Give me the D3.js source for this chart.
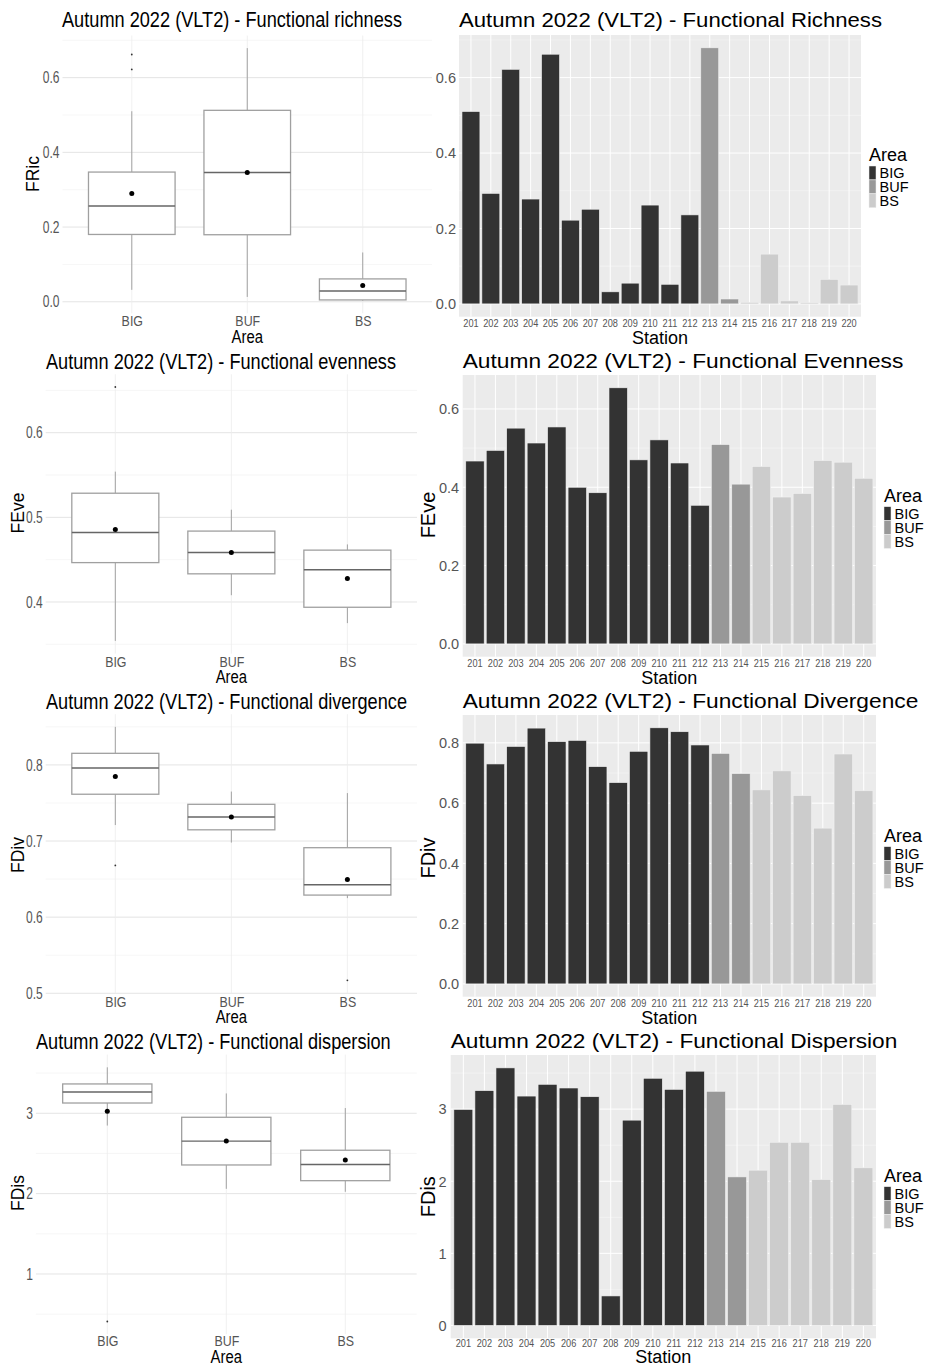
<!DOCTYPE html>
<html>
<head>
<meta charset="utf-8">
<script src="https://cdn.jsdelivr.net/npm/d3@7"></script>
<style>
body { margin: 0; background: #fff; }
svg { display: block; font-family: "Liberation Sans", Arial, Helvetica, sans-serif; }
</style>
</head>
<body>
<svg id="chart" width="928" height="1367"></svg>
<script>
const stations = ['201','202','203','204','205','206','207','208','209','210',
	'211','212','213','214','215','216','217','218','219','220'];
const areas = ['BIG','BIG','BIG','BIG','BIG','BIG','BIG','BIG','BIG','BIG','BIG','BIG',
	'BUF','BUF','BS','BS','BS','BS','BS','BS'];
const areaLevels = ['BIG','BUF','BS'];
const areaFills = ['#333333','#989898','#cccccc'];

// values per station
const fric = [0.510,0.293,0.622,0.278,0.662,0.222,0.251,0.032,0.055,0.262,0.052,0.236,
	0.679,0.013,0.004,0.132,0.008,0.003,0.065,0.050];
const feve = [0.467,0.494,0.551,0.513,0.554,0.400,0.386,0.654,0.470,0.521,0.462,0.354,
	0.509,0.408,0.453,0.375,0.384,0.468,0.464,0.423];
const fdiv = [0.799,0.730,0.788,0.849,0.804,0.808,0.721,0.668,0.772,0.850,0.837,0.793,
	0.765,0.698,0.644,0.707,0.625,0.517,0.763,0.641];
const fdis = [2.995,3.256,3.572,3.181,3.344,3.293,3.172,0.409,2.847,3.428,3.274,3.526,
	3.247,2.060,2.153,2.540,2.540,2.023,3.065,2.186];

const fricTicks = [0, 0.2, 0.4, 0.6];
const feveBoxTicks = [0.4, 0.5, 0.6];
const feveBarTicks = [0, 0.2, 0.4, 0.6];
const fdivBoxTicks = [0.5, 0.6, 0.7, 0.8];
const fdivBarTicks = [0, 0.2, 0.4, 0.6, 0.8];
const fdisBoxTicks = [1, 2, 3];
const fdisBarTicks = [0, 1, 2, 3];

const metrics = [
	{code:'FRic', values:fric, boxTicks:fricTicks, barTicks:fricTicks, fmt:d3.format('.1f'),
		boxTitle:'Autumn 2022 (VLT2) - Functional richness', barTitle:'Autumn 2022 (VLT2) - Functional Richness'},
	{code:'FEve', values:feve, boxTicks:feveBoxTicks, barTicks:feveBarTicks, fmt:d3.format('.1f'),
		boxTitle:'Autumn 2022 (VLT2) - Functional evenness', barTitle:'Autumn 2022 (VLT2) - Functional Evenness'},
	{code:'FDiv', values:fdiv, boxTicks:fdivBoxTicks, barTicks:fdivBarTicks, fmt:d3.format('.1f'),
		boxTitle:'Autumn 2022 (VLT2) - Functional divergence', barTitle:'Autumn 2022 (VLT2) - Functional Divergence'},
	{code:'FDis', values:fdis, boxTicks:fdisBoxTicks, barTicks:fdisBarTicks, fmt:d3.format('d'),
		boxTitle:'Autumn 2022 (VLT2) - Functional dispersion', barTitle:'Autumn 2022 (VLT2) - Functional Dispersion'}
];

// pixel boxes of each panel
const boxLayout = [
	{x0:62.5, x1:432, y0:35.5, y1:313.3, titleX:62, titleY:27, titleW:340, yTitleX:33, yTitleY:174, catY:320.7, axisY:336.7},
	{x0:45.7, x1:417, y0:374.3, y1:653.6, titleX:46, titleY:369.3, titleW:350, yTitleX:18, yTitleY:513, catY:661.7, axisY:677.3},
	{x0:45.7, x1:417, y0:714.2, y1:993, titleX:46, titleY:708.7, titleW:361, yTitleX:18, yTitleY:855, catY:1001.7, axisY:1017.3},
	{x0:35.9, x1:416.7, y0:1054.6, y1:1334.2, titleX:36, titleY:1048.7, titleW:354.7, yTitleX:18, yTitleY:1193, catY:1341, axisY:1357}
];
const barLayout = [
	{x0:459, x1:861, y0:35, y1:316.7, titleX:459, titleY:27, titleW:423, yTitleX:null, yTitleY:0, tickPad:3, stationY:323.3, axisY:337.7, legX:869, legY:155, keyY:166},
	{x0:462.7, x1:876, y0:375, y1:656.7, titleX:462.7, titleY:368.3, titleW:440.6, yTitleX:427.5, yTitleY:515, tickPad:3.5, stationY:664, axisY:677.3, legX:884, legY:496, keyY:506.7},
	{x0:462.7, x1:876, y0:715, y1:996.7, titleX:462.7, titleY:708.3, titleW:455.6, yTitleX:427.5, yTitleY:858, tickPad:3.5, stationY:1004, axisY:1017.3, legX:884, legY:836, keyY:846.7},
	{x0:450.7, x1:876, y0:1055, y1:1338.3, titleX:450.7, titleY:1048.3, titleW:446.6, yTitleX:427.5, yTitleY:1196.7, tickPad:4, stationY:1344, axisY:1357, legX:884, legY:1176, keyY:1186.7}
];

const svg = d3.select('#chart');
const fillOf = d3.scaleOrdinal().domain(areaLevels).range(areaFills);

function squeeze(sel, k){
	sel.each(function(){
		const w = this.getComputedTextLength();
		d3.select(this).attr('textLength', w * k).attr('lengthAdjust', 'spacingAndGlyphs');
	});
}

// minor breaks halfway between the major ones, inside the domain
function minorOf(ticks, domain){
	const step = ticks[1] - ticks[0];
	const lo = Math.min(domain[0], domain[1]), hi = Math.max(domain[0], domain[1]);
	let out = [];
	for (let i = -1; i < ticks.length; i++){
		const v = ticks[0] + (i + 0.5) * step;
		if (v >= lo && v <= hi) out.push(v);
	}
	return out;
}

function boxStats(vals){
	const s = vals.slice().sort(d3.ascending);
	const q1 = d3.quantileSorted(s, 0.25);
	const med = d3.quantileSorted(s, 0.5);
	const q3 = d3.quantileSorted(s, 0.75);
	const lof = q1 - 1.5 * (q3 - q1), hif = q3 + 1.5 * (q3 - q1);
	const inside = s.filter(function(v){ return v >= lof && v <= hif });
	return {
		q1: q1, med: med, q3: q3,
		lo: d3.min(inside), hi: d3.max(inside),
		out: s.filter(function(v){ return v < lof || v > hif }),
		mean: d3.mean(s)
	};
}

function boxPanel(m, L){
	const ext = d3.extent(m.values);
	const pad = (ext[1] - ext[0]) * 0.05;
	const y = d3.scaleLinear().domain([ext[0] - pad, ext[1] + pad]).range([L.y1, L.y0]);
	const x = d3.scalePoint().domain(areaLevels).range([L.x0, L.x1]).padding(0.6);
	const g = svg.append('g');

	g.selectAll('line.minor').data(minorOf(m.boxTicks, y.domain())).enter().append('line')
		.attr('x1', L.x0).attr('x2', L.x1)
		.attr('y1', function(d){ return y(d) }).attr('y2', function(d){ return y(d) })
		.style('stroke', '#f2f2f2').style('stroke-width', 0.7);
	g.selectAll('line.major').data(m.boxTicks).enter().append('line')
		.attr('x1', L.x0).attr('x2', L.x1)
		.attr('y1', function(d){ return y(d) }).attr('y2', function(d){ return y(d) })
		.style('stroke', '#e4e4e4').style('stroke-width', 1);
	g.selectAll('line.vgrid').data(areaLevels).enter().append('line')
		.attr('x1', function(d){ return x(d) }).attr('x2', function(d){ return x(d) })
		.attr('y1', L.y0).attr('y2', L.y1)
		.style('stroke', '#ececec').style('stroke-width', 0.8);

	const stats = areaLevels.map(function(a){
		const vals = m.values.filter(function(v, i){ return areas[i] === a });
		const s = boxStats(vals);
		s.area = a;
		return s;
	});
	const bw = x.step() * 0.75;

	const box = g.selectAll('g.box').data(stats).enter().append('g');
	box.append('line')
		.attr('x1', function(d){ return x(d.area) }).attr('x2', function(d){ return x(d.area) })
		.attr('y1', function(d){ return y(d.hi) }).attr('y2', function(d){ return y(d.q3) })
		.style('stroke', '#999').style('stroke-width', 0.9);
	box.append('line')
		.attr('x1', function(d){ return x(d.area) }).attr('x2', function(d){ return x(d.area) })
		.attr('y1', function(d){ return y(d.q1) }).attr('y2', function(d){ return y(d.lo) })
		.style('stroke', '#999').style('stroke-width', 0.9);
	box.append('rect')
		.attr('x', function(d){ return x(d.area) - bw / 2 })
		.attr('width', bw)
		.attr('y', function(d){ return y(d.q3) })
		.attr('height', function(d){ return y(d.q1) - y(d.q3) })
		.style('fill', '#fff').style('stroke', '#a0a0a0').style('stroke-width', 1.3);
	box.append('line')
		.attr('x1', function(d){ return x(d.area) - bw / 2 }).attr('x2', function(d){ return x(d.area) + bw / 2 })
		.attr('y1', function(d){ return y(d.med) }).attr('y2', function(d){ return y(d.med) })
		.style('stroke', '#666').style('stroke-width', 1.4);
	box.selectAll('circle.out').data(function(d){ return d.out.map(function(v){ return {area: d.area, v: v} }) })
		.enter().append('circle')
		.attr('cx', function(d){ return x(d.area) }).attr('cy', function(d){ return y(d.v) })
		.attr('r', 0.9).style('fill', '#333');
	box.append('circle')
		.attr('cx', function(d){ return x(d.area) }).attr('cy', function(d){ return y(d.mean) })
		.attr('r', 2.5).style('fill', '#000');

	const ya = g.append('g').attr('transform', 'translate(' + L.x0 + ',0)')
		.call(d3.axisLeft(y).tickValues(m.boxTicks).tickFormat(m.fmt).tickSize(0).tickPadding(3));
	ya.select('.domain').remove();
	ya.attr('font-family', null).attr('font-size', 16);
	ya.selectAll('text').style('fill', '#555').call(squeeze, 0.75);

	const xa = g.append('g').attr('transform', 'translate(0,' + L.y1 + ')')
		.call(d3.axisBottom(x).tickSize(0));
	xa.select('.domain').remove();
	xa.attr('font-family', null).attr('font-size', 15.5);
	xa.selectAll('text').attr('y', L.catY - L.y1).attr('dy', '0.35em').style('fill', '#555').call(squeeze, 0.8);

	g.append('text')
		.attr('x', L.titleX).attr('y', L.titleY)
		.attr('font-size', 22)
		.attr('textLength', L.titleW).attr('lengthAdjust', 'spacingAndGlyphs')
		.text(m.boxTitle);
	g.append('text')
		.attr('x', (L.x0 + L.x1) / 2).attr('y', L.axisY).attr('dy', '0.35em')
		.attr('font-size', 17.5).style('text-anchor', 'middle')
		.text('Area').call(squeeze, 0.85);
	g.append('text')
		.attr('transform', 'translate(' + L.yTitleX + ',' + L.yTitleY + ') rotate(-90)')
		.attr('dy', '0.35em')
		.attr('font-size', 17.5).style('text-anchor', 'middle')
		.text(m.code);
}

function barPanel(m, L){
	const max = d3.max(m.values);
	const y = d3.scaleLinear().domain([-0.05 * max, 1.05 * max]).range([L.y1, L.y0]);
	const x = d3.scaleBand().domain(stations).range([L.x0, L.x1]).paddingInner(0.1).paddingOuter(0.15);
	const g = svg.append('g');

	g.append('rect')
		.attr('x', L.x0).attr('y', L.y0)
		.attr('width', L.x1 - L.x0).attr('height', L.y1 - L.y0)
		.style('fill', '#ebebeb');
	g.selectAll('line.minor').data(minorOf(m.barTicks, y.domain())).enter().append('line')
		.attr('x1', L.x0).attr('x2', L.x1)
		.attr('y1', function(d){ return y(d) }).attr('y2', function(d){ return y(d) })
		.style('stroke', '#f6f6f6').style('stroke-width', 0.6);
	g.selectAll('line.major').data(m.barTicks).enter().append('line')
		.attr('x1', L.x0).attr('x2', L.x1)
		.attr('y1', function(d){ return y(d) }).attr('y2', function(d){ return y(d) })
		.style('stroke', '#fff').style('stroke-width', 1);
	g.selectAll('line.vgrid').data(stations).enter().append('line')
		.attr('x1', function(d){ return x(d) + x.bandwidth() / 2 }).attr('x2', function(d){ return x(d) + x.bandwidth() / 2 })
		.attr('y1', L.y0).attr('y2', L.y1)
		.style('stroke', '#fff').style('stroke-width', 1);

	g.selectAll('rect.bar').data(m.values).enter().append('rect')
		.attr('x', function(d, i){ return x(stations[i]) })
		.attr('width', x.bandwidth())
		.attr('y', function(d){ return y(d) })
		.attr('height', function(d){ return y(0) - y(d) })
		.style('fill', function(d, i){ return fillOf(areas[i]) })
		.style('stroke', '#f0f0f0').style('stroke-width', 0.6);

	const ya = g.append('g').attr('transform', 'translate(' + L.x0 + ',0)')
		.call(d3.axisLeft(y).tickValues(m.barTicks).tickFormat(m.fmt).tickSize(0).tickPadding(L.tickPad));
	ya.select('.domain').remove();
	ya.attr('font-family', null).attr('font-size', 15);
	ya.selectAll('text').style('fill', '#555').call(squeeze, 0.97);

	const xa = g.append('g').attr('transform', 'translate(0,' + L.y1 + ')')
		.call(d3.axisBottom(x).tickSize(0));
	xa.select('.domain').remove();
	xa.attr('font-family', null).attr('font-size', 10);
	xa.selectAll('text').attr('y', L.stationY - L.y1).attr('dy', '0.35em').style('fill', '#555').call(squeeze, 0.92);

	g.append('text')
		.attr('x', L.titleX).attr('y', L.titleY)
		.attr('font-size', 20.5)
		.attr('textLength', L.titleW).attr('lengthAdjust', 'spacingAndGlyphs')
		.text(m.barTitle);
	g.append('text')
		.attr('x', (L.x0 + L.x1) / 2).attr('y', L.axisY).attr('dy', '0.35em')
		.attr('font-size', 18).style('text-anchor', 'middle')
		.text('Station');
	if (L.yTitleX !== null){
		g.append('text')
			.attr('transform', 'translate(' + L.yTitleX + ',' + L.yTitleY + ') rotate(-90)')
			.attr('dy', '0.35em')
			.attr('font-size', 20).style('text-anchor', 'middle')
			.text(m.code);
	}

	// legend
	const keyH = 13.9;
	g.append('text')
		.attr('x', L.legX).attr('y', L.legY).attr('dy', '0.35em')
		.attr('font-size', 18)
		.text('Area');
	const key = g.selectAll('g.key').data(areaLevels).enter().append('g')
		.attr('transform', function(d, i){ return 'translate(' + L.legX + ',' + (L.keyY + i * keyH) + ')' });
	key.append('rect')
		.attr('width', 7).attr('height', keyH)
		.style('fill', function(d){ return fillOf(d) })
		.style('stroke', '#f0f0f0').style('stroke-width', 0.5);
	key.append('text')
		.attr('x', 10.5).attr('y', keyH / 2).attr('dy', '0.35em')
		.attr('font-size', 14.5)
		.text(function(d){ return d });
}

metrics.forEach(function(m, i){
	boxPanel(m, boxLayout[i]);
	barPanel(m, barLayout[i]);
});
</script>
</body>
</html>
